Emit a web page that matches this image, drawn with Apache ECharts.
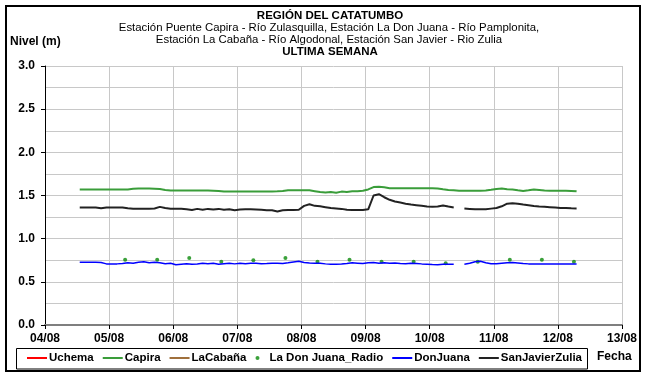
<!DOCTYPE html>
<html>
<head>
<meta charset="utf-8">
<script src="https://cdn.jsdelivr.net/npm/echarts@6/dist/echarts.min.js"></script>
<style>
  html, body { margin: 0; padding: 0; background: #fff; }
  #chart { width: 647px; height: 372px; }
</style>
</head>
<body>
<div id="chart"></div>
<script>
// Water level readings, every 2 hours from 04/08 13:00
const seriesStart = new Date(2013, 7, 4, 13, 0, 0).getTime();
const seriesStepHours = 2;

// Radio readings, every 12 hours from 05/08 06:00
const radioStart = new Date(2013, 7, 5, 6, 0, 0).getTime();
const radioStepHours = 12;

const xTickLabels = ['04/08', '05/08', '06/08', '07/08', '08/08', '09/08', '10/08', '11/08', '12/08', '13/08'];
const yTickLabels = ['0.0', '0.5', '1.0', '1.5', '2.0', '2.5', '3.0'];

const uchema = [];
const laCabana = [];

const capira = [
  1.57, 1.57, 1.57, 1.57, 1.57, 1.57, 1.57, 1.57, 1.57, 1.57,
  1.578, 1.58, 1.58, 1.58, 1.578,
  1.575, 1.565,
  1.557, 1.557, 1.557, 1.557, 1.557, 1.557, 1.557, 1.557, 1.555, 1.553,
  1.546, 1.546, 1.546, 1.546, 1.546, 1.546, 1.546, 1.546, 1.546, 1.546, 1.548, 1.552,
  1.562, 1.562, 1.562, 1.562, 1.56,
  1.55, 1.54, 1.535, 1.54, 1.533, 1.545, 1.54, 1.548, 1.55, 1.556, 1.57, 1.598, 1.6, 1.596, 1.585,
  1.583, 1.583, 1.583, 1.583, 1.583, 1.583, 1.583, 1.583, 1.58,
  1.572, 1.565, 1.562,
  1.556, 1.556, 1.556, 1.556, 1.556, 1.558,
  1.566, 1.575, 1.58, 1.572, 1.57, 1.56, 1.552, 1.56, 1.57, 1.565, 1.558,
  1.556, 1.556, 1.556, 1.556, 1.553,
  1.548
];

const sanJavierZulia = [
  1.362, 1.362, 1.362, 1.36, 1.352, 1.36, 1.362, 1.362, 1.36, 1.352,
  1.346, 1.346, 1.346, 1.346, 1.35, 1.368, 1.355, 1.347, 1.347, 1.347,
  1.34, 1.332, 1.345, 1.335, 1.345, 1.338, 1.345, 1.335, 1.34, 1.33,
  1.338, 1.34, 1.34, 1.338, 1.335, 1.33, 1.328, 1.315, 1.33, 1.332,
  1.332, 1.335, 1.38, 1.398, 1.38, 1.375, 1.365, 1.355, 1.35, 1.345,
  1.335, 1.333, 1.333, 1.332, 1.34, 1.5, 1.515, 1.48, 1.45, 1.43,
  1.418, 1.405, 1.395, 1.388, 1.38, 1.372, 1.37, 1.372, 1.385, 1.372,
  1.36, null, 1.35, 1.345, 1.34, 1.342, 1.34, 1.348, 1.355, 1.375,
  1.405, 1.41, 1.405, 1.395, 1.388, 1.378, 1.372, 1.37, 1.365, 1.36,
  1.355, 1.355, 1.352, 1.35
];

const donJuana = [
  0.726, 0.726, 0.726, 0.726, 0.724, 0.708, 0.708, 0.708, 0.712, 0.72,
  0.715, 0.728, 0.733, 0.72, 0.728, 0.72, 0.71, 0.715, 0.697, 0.705,
  0.71, 0.703, 0.707, 0.714, 0.71, 0.714, 0.705, 0.71, 0.714, 0.708,
  0.714, 0.71, 0.714, 0.714, 0.71, 0.712, 0.716, 0.714, 0.712, 0.72,
  0.73, 0.738, 0.725, 0.718, 0.714, 0.714, 0.708, 0.703, 0.703, 0.706,
  0.712, 0.72, 0.716, 0.712, 0.72, 0.725, 0.716, 0.72, 0.714, 0.718,
  0.712, 0.71, 0.714, 0.712, 0.708, 0.705, 0.7, 0.697, 0.703, 0.703,
  0.703, null, 0.705, 0.715, 0.733, 0.738, 0.72, 0.71, 0.71, 0.715,
  0.72, 0.724, 0.718, 0.712, 0.708, 0.707, 0.707, 0.707, 0.707, 0.707,
  0.707, 0.707, 0.707, 0.707
];

const donJuanaRadio = [
  0.756, 0.756, 0.776, 0.733, 0.749, 0.776, 0.733, 0.756,
  0.733, 0.733, 0.714, 0.733, 0.756, 0.756, 0.733
];

const HOUR = 3600 * 1000;
function timed(values, start, stepHours) {
  return values.map((v, i) => [start + i * stepHours * HOUR, v]);
}

const FONT = '"Liberation Sans", Arial, sans-serif';
const LINE_ICON = 'path://M0,0H20V2H0Z';
const chart = echarts.init(document.getElementById('chart'), null, { renderer: 'canvas' });

const xMin = new Date(2013, 7, 4).getTime();
const xMax = new Date(2013, 7, 13).getTime();

chart.setOption({
  animation: false,
  backgroundColor: '#ffffff',
  textStyle: { fontFamily: FONT },
  grid: { left: 45, right: 25, top: 66, bottom: 47, containLabel: false },
  xAxis: {
    type: 'time',
    min: xMin,
    max: xMax,
    interval: 24 * HOUR,
    minInterval: 24 * HOUR,
    axisLine: { show: true, lineStyle: { color: '#7f7f7f', width: 2 } },
    axisTick: { show: true, length: 4, lineStyle: { color: '#000', width: 1 } },
    axisLabel: {
      show: true,
      margin: 8,
      color: '#000',
      fontSize: 12,
      fontWeight: 'bold',
      fontFamily: FONT,
      showMinLabel: true,
      showMaxLabel: true,
      formatter: function (v) {
        const d = Math.round((v - xMin) / (24 * HOUR));
        return xTickLabels[d] !== undefined ? xTickLabels[d] : '';
      }
    },
    splitLine: { show: true, lineStyle: { color: '#c8c8c8', width: 1 } }
  },
  yAxis: {
    type: 'value',
    min: 0,
    max: 3,
    interval: 0.5,
    axisLine: { show: true, lineStyle: { color: '#000', width: 1 } },
    axisTick: { show: true, length: 4, lineStyle: { color: '#000', width: 1 } },
    axisLabel: {
      margin: 10,
      color: '#000',
      fontSize: 12,
      fontWeight: 'bold',
      fontFamily: FONT,
      formatter: function (v) {
        const k = Math.round(v / 0.5);
        return yTickLabels[k] !== undefined ? yTickLabels[k] : '';
      }
    },
    splitLine: { show: true, lineStyle: { color: '#c8c8c8', width: 1 } },
    minorTick: { show: false, splitNumber: 2 },
    minorSplitLine: { show: true, lineStyle: { color: '#c8c8c8', width: 1 } }
  },
  legend: {
    left: 27,
    top: 352,
    itemWidth: 20,
    itemHeight: 4,
    itemGap: 9,
    padding: 0,
    textStyle: { color: '#000', fontSize: 11.5, fontWeight: 'bold', fontFamily: FONT, padding: [0, 0, 0, -3] },
    data: [
      { name: 'Uchema', icon: LINE_ICON },
      { name: 'Capira', icon: LINE_ICON },
      { name: 'LaCabaña', icon: LINE_ICON },
      { name: 'La Don Juana_Radio', icon: 'circle' },
      { name: 'DonJuana', icon: LINE_ICON },
      { name: 'SanJavierZulia', icon: LINE_ICON }
    ]
  },
  graphic: [
    { type: 'rect', silent: true, shape: { x: 6, y: 6, width: 634, height: 365 },
      style: { fill: 'none', stroke: '#000', lineWidth: 2 } },
    { type: 'rect', silent: true, shape: { x: 16.5, y: 348.5, width: 571, height: 20.5 },
      style: { fill: 'none', stroke: '#000', lineWidth: 1 } },
    { type: 'text', silent: true, x: 330, y: 10,
      style: { text: 'REGIÓN DEL CATATUMBO', font: 'bold 11.5px ' + FONT, fill: '#000', textAlign: 'center' } },
    { type: 'text', silent: true, x: 329, y: 22,
      style: { text: 'Estación Puente Capira - Río Zulasquilla, Estación La Don Juana - Río Pamplonita,', font: '11.4px ' + FONT, fill: '#000', textAlign: 'center' } },
    { type: 'text', silent: true, x: 329, y: 34,
      style: { text: 'Estación La Cabaña - Río Algodonal, Estación San Javier - Rio Zulia', font: '11.4px ' + FONT, fill: '#000', textAlign: 'center' } },
    { type: 'text', silent: true, x: 330, y: 46,
      style: { text: 'ULTIMA SEMANA', font: 'bold 11.5px ' + FONT, fill: '#000', textAlign: 'center' } },
    { type: 'text', silent: true, x: 10, y: 36,
      style: { text: 'Nivel (m)', font: 'bold 12px ' + FONT, fill: '#000' } },
    { type: 'text', silent: true, x: 597, y: 351,
      style: { text: 'Fecha', font: 'bold 12px ' + FONT, fill: '#000' } }
  ],
  series: [
    { name: 'Uchema', type: 'line', symbol: 'none', data: uchema,
      lineStyle: { color: '#ff0000', width: 1.5 }, itemStyle: { color: '#ff0000' } },
    { name: 'Capira', type: 'line', symbol: 'none', connectNulls: false,
      data: timed(capira, seriesStart, seriesStepHours),
      lineStyle: { color: '#3a9d3a', width: 2 }, itemStyle: { color: '#3a9d3a' } },
    { name: 'LaCabaña', type: 'line', symbol: 'none', data: laCabana,
      lineStyle: { color: '#a0703c', width: 2 }, itemStyle: { color: '#a0703c' } },
    { name: 'La Don Juana_Radio', type: 'scatter', symbol: 'circle', symbolSize: 4,
      data: timed(donJuanaRadio, radioStart, radioStepHours),
      itemStyle: { color: '#0a8a0a' } },
    { name: 'DonJuana', type: 'line', symbol: 'none', connectNulls: false,
      data: timed(donJuana, seriesStart, seriesStepHours),
      lineStyle: { color: '#0000ff', width: 1.5 }, itemStyle: { color: '#0000ff' } },
    { name: 'SanJavierZulia', type: 'line', symbol: 'none', connectNulls: false,
      data: timed(sanJavierZulia, seriesStart, seriesStepHours),
      lineStyle: { color: '#222222', width: 2 }, itemStyle: { color: '#222222' } }
  ]
});
</script>
</body>
</html>
